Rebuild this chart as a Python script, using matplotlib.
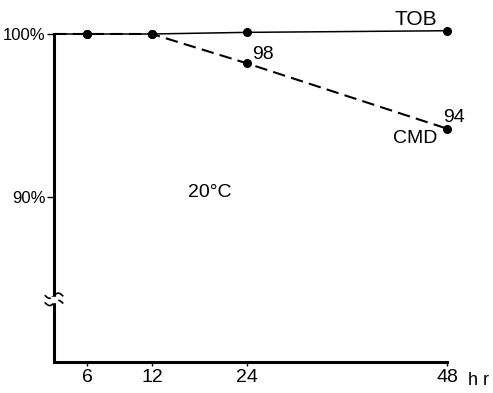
import numpy as np
import matplotlib
matplotlib.use('Agg')
import matplotlib.pyplot as plt

# data
hours = [0, 6, 12, 24, 48]
tob = [100.0, 100.0, 100.0, 100.1, 100.2]
cmd = [100.0, 100.0, 100.0, 98.2, 94.2]
xticks = [6, 12, 24, 48]
xticklabels = ['6', '12', '24', '48']
yticks = [90, 100]
yticklabels = ['90%', '100%']

# the drawn time axis is not evenly spaced
axis_hr = [0, 6, 12, 24, 48]
axis_pos = [0, 33, 98, 193, 393]

plt.rcParams['font.family'] = ['Liberation Sans', 'DejaVu Sans']

fig = plt.figure(figsize=(4.93, 3.93), dpi=100)
ax = fig.add_axes([0.1095, 0.0789, 0.7972, 0.8346])

ax.set_xscale('function', functions=(lambda x: np.interp(x, axis_hr, axis_pos),
                                     lambda p: np.interp(p, axis_pos, axis_hr)))
ax.set_xlim(0, 48)
ax.set_ylim(79.9, 100)

ax.plot(hours, tob, color='black', lw=1.1, clip_on=False,
        marker='o', ms=5.5, markevery=[1, 2, 3, 4])
ax.plot(hours, cmd, color='black', lw=1.5, ls=(0, (6, 3)), clip_on=False,
        marker='o', ms=5.5, markevery=[1, 2, 3, 4])

for s in ['top', 'right']:
    ax.spines[s].set_visible(False)
for s in ['left', 'bottom']:
    ax.spines[s].set_linewidth(2.2)

ax.set_xticks(xticks)
ax.set_xticklabels(xticklabels, fontsize=14)
ax.set_yticks(yticks)
ax.set_yticklabels(yticklabels, fontsize=12)
ax.tick_params(axis='x', length=3, width=1, pad=2)
ax.tick_params(axis='y', length=5, width=1, pad=1)

ax.text(1.053, -0.03, 'h r', transform=ax.transAxes, fontsize=13,
        ha='left', va='top')
ax.text(46.8, 100.55, 'TOB', fontsize=15, ha='right', va='baseline')
ax.text(46.8, 93.31, 'CMD', fontsize=14, ha='right', va='baseline')
ax.text(24.6, 98.47, '98', fontsize=14, ha='left', va='baseline')
ax.text(47.5, 94.6, '94', fontsize=14, ha='left', va='baseline')
ax.text(16.5, 90.0, '20°C', fontsize=14, ha='left', va='baseline')

# axis break mark on the left spine
t = np.linspace(-1, 1, 30)
bx = t * 0.022
for off in (0.0, 0.022):
    by = 0.18 + off + 0.008 * np.sin(t * np.pi)
    ax.plot(bx, by, color='black', lw=1.2, transform=ax.transAxes, clip_on=False)
ax.fill_between([-0.008, 0.008], 0.183, 0.199, color='white',
                transform=ax.transAxes, clip_on=False, zorder=3)

fig.savefig('out.png', dpi=100)
